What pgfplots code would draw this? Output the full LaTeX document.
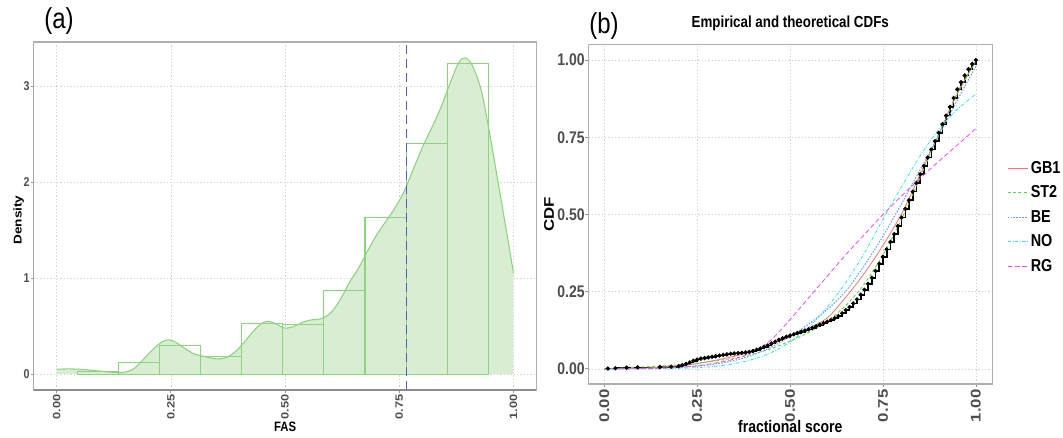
\documentclass[border=0pt]{standalone}
\usepackage{fontspec}
\setmainfont{Liberation Sans}
\usepackage{graphicx}
\usepackage{pgfplots}
\pgfplotsset{compat=1.18}
\newcommand{\vs}[1]{\scalebox{1}[1.2]{#1}}
\newcommand{\hs}[1]{\scalebox{1.2}[1]{#1}}
\definecolor{densfill}{RGB}{217,237,211}
\definecolor{densline}{RGB}{140,212,125}
\definecolor{vlinec}{RGB}{88,88,200}
\definecolor{ticktext}{RGB}{77,77,77}
\definecolor{tickc}{RGB}{150,150,150}
\definecolor{framec}{RGB}{175,175,175}
\definecolor{gridc}{RGB}{210,210,210}
\definecolor{colGB}{RGB}{248,118,109}
\definecolor{colST}{RGB}{90,215,70}
\definecolor{colBE}{RGB}{100,160,255}
\definecolor{colNO}{RGB}{60,225,225}
\definecolor{colRG}{RGB}{230,80,230}
\pgfplotstableread{
x y
0.00 0.052
0.03 0.055
0.06 0.048
0.10 0.030
0.13 0.018
0.15 0.022
0.17 0.060
0.19 0.155
0.21 0.255
0.23 0.335
0.245 0.358
0.26 0.335
0.28 0.270
0.30 0.215
0.32 0.188
0.35 0.160
0.37 0.172
0.39 0.230
0.41 0.330
0.43 0.445
0.45 0.535
0.465 0.550
0.48 0.525
0.50 0.480
0.52 0.500
0.54 0.545
0.56 0.568
0.58 0.580
0.60 0.640
0.62 0.770
0.64 0.950
0.66 1.100
0.68 1.280
0.70 1.450
0.72 1.590
0.74 1.730
0.76 1.900
0.78 2.130
0.80 2.360
0.82 2.560
0.84 2.770
0.86 3.020
0.88 3.250
0.895 3.300
0.91 3.220
0.93 2.950
0.95 2.450
0.97 1.900
0.98 1.620
0.99 1.340
1.00 1.050
}\density
\begin{document}
\begin{tikzpicture}[x=1pt,y=1pt]
\useasboundingbox (0,0) rectangle (797.25,327.75);
% ---------------- panel (a)
\begin{axis}[
 at={(25.35pt,35.25pt)}, anchor=south west, scale only axis,
 width=376.9pt, height=261pt,
 xmin=-0.05, xmax=1.05, ymin=-0.165, ymax=3.465,
 xtick={0,0.25,0.5,0.75,1},
 xticklabels={\hs{0.00},\hs{0.25},\hs{0.50},\hs{0.75},\hs{1.00}},
 ytick={0,1,2,3},
 yticklabels={\vs{0},\vs{1},\vs{2},\vs{3}},
 tick pos=left, tick align=outside, major tick length=2.2pt,
 every tick/.style={tickc, line width=0.6pt},
 xticklabel style={rotate=90, anchor=east, inner sep=0pt, font=\bfseries\fontsize{8}{9}\selectfont, text=ticktext},
 yticklabel style={anchor=east, inner sep=0pt, font=\bfseries\fontsize{8}{9}\selectfont, text=ticktext},
 xticklabel shift=1pt, yticklabel shift=0.7pt,
 grid=major, major grid style={gridc, dash pattern=on 1pt off 1.5pt, line width=0.4pt},
 axis line style={framec, line width=0.8pt},
 xlabel={\vs{FAS}}, ylabel={\hs{Density}},
 xlabel style={at={(axis description cs:0.5,-0.1055)}, anchor=center, font=\bfseries\fontsize{8.5}{10}\selectfont},
 ylabel style={at={(axis description cs:-0.0300,0.4885)}, anchor=center, font=\bfseries\fontsize{8.5}{10}\selectfont},
 unbounded coords=jump,
]
\addplot[draw=none, fill=densfill] table {\density} \closedcycle;
% histogram bars (outlines only)
\addplot[draw=densline, line width=0.8pt] coordinates {
(0.045,0) (0.045,0.027) (0.135,0.027) (0.135,0) (0.045,0) (0.045,nan)
(0.135,0) (0.135,0.125) (0.225,0.125) (0.225,0) (0.135,0) (0.135,nan)
(0.225,0) (0.225,0.295) (0.315,0.295) (0.315,0) (0.225,0) (0.225,nan)
(0.315,0) (0.315,0.180) (0.405,0.180) (0.405,0) (0.315,0) (0.315,nan)
(0.405,0) (0.405,0.525) (0.495,0.525) (0.495,0) (0.405,0) (0.405,nan)
(0.495,0) (0.495,0.520) (0.585,0.520) (0.585,0) (0.495,0) (0.495,nan)
(0.585,0) (0.585,0.870) (0.675,0.870) (0.675,0) (0.585,0) (0.585,nan)
(0.675,0) (0.675,1.637) (0.765,1.637) (0.765,0) (0.675,0) (0.675,nan)
(0.765,0) (0.765,2.405) (0.855,2.405) (0.855,0) (0.765,0) (0.765,nan)
(0.855,0) (0.855,3.243) (0.945,3.243) (0.945,0) (0.855,0)
};
\addplot[densline, line width=0.8pt, smooth, tension=0.5] table {\density};
\addplot[vlinec, line width=1.3pt, dash pattern=on 7pt off 3.5pt] coordinates {(0.766,-0.165) (0.766,3.465)};
\draw[framec!80!black, line width=1pt] (rel axis cs:0,1) -- (rel axis cs:0,0) -- (rel axis cs:1,0);
\end{axis}
% ---------------- panel (b)
\begin{axis}[
 at={(441.2pt,39.75pt)}, anchor=south west, scale only axis,
 width=303pt, height=254.8pt,
 xmin=-0.043, xmax=1.044, ymin=-0.049, ymax=1.051,
 xtick={0,0.25,0.5,0.75,1},
 xticklabels={\hs{0.00},\hs{0.25},\hs{0.50},\hs{0.75},\hs{1.00}},
 ytick={0,0.25,0.5,0.75,1},
 yticklabels={\vs{0.00},\vs{0.25},\vs{0.50},\vs{0.75},\vs{1.00}},
 tick pos=left, tick align=outside, major tick length=2.2pt,
 every tick/.style={tickc, line width=0.6pt},
 xticklabel style={rotate=90, anchor=east, inner sep=0pt, font=\bfseries\fontsize{10.5}{12}\selectfont, text=ticktext},
 yticklabel style={anchor=east, inner sep=0pt, font=\bfseries\fontsize{10.5}{12}\selectfont, text=ticktext},
 xticklabel shift=1.8pt, yticklabel shift=0.3pt,
 grid=major, major grid style={gridc, dash pattern=on 1pt off 1.5pt, line width=0.5pt},
 axis line style={framec, line width=0.9pt},
 title={\vs{Empirical and theoretical CDFs}},
 title style={at={(axis description cs:0.5,1.0377)}, anchor=center, font=\bfseries\fontsize{10}{12}\selectfont},
 xlabel={\vs{fractional score}}, ylabel={\hs{CDF}},
 xlabel style={at={(axis description cs:0.5,-0.1257)}, anchor=center, font=\bfseries\fontsize{10.5}{12}\selectfont},
 ylabel style={at={(axis description cs:-0.0973,0.5)}, anchor=center, font=\bfseries\fontsize{10.5}{12}\selectfont},
 legend style={at={(axis description cs:1.036,0.664)}, anchor=north west, draw=none, fill=none,
   inner sep=0pt, font=\bfseries\fontsize{10.8}{12}\selectfont, row sep=3.8pt,
   /tikz/every even column/.style={column sep=7pt}},
 legend cell align=left,
 legend image code/.code={\draw[#1] (0pt,0pt) -- (15pt,0pt);},
]
\addplot[forget plot, black, line width=1.2pt, const plot, mark=*, mark size=0.9pt, mark options={solid}] table {
x y
0.01 0.001
0.03 0.002
0.06 0.004
0.09 0.005
0.15 0.006
0.18 0.007
0.20 0.009
0.21 0.012
0.22 0.016
0.23 0.021
0.24 0.026
0.25 0.030
0.26 0.033
0.27 0.035
0.28 0.037
0.29 0.039
0.30 0.041
0.31 0.043
0.32 0.045
0.33 0.047
0.34 0.049
0.35 0.050
0.36 0.051
0.37 0.052
0.38 0.053
0.39 0.055
0.40 0.058
0.41 0.062
0.42 0.066
0.43 0.071
0.44 0.076
0.45 0.082
0.46 0.088
0.47 0.094
0.48 0.099
0.49 0.104
0.50 0.108
0.51 0.112
0.52 0.116
0.53 0.120
0.54 0.124
0.55 0.128
0.56 0.133
0.57 0.138
0.58 0.143
0.59 0.148
0.60 0.153
0.61 0.158
0.62 0.164
0.63 0.171
0.64 0.180
0.65 0.190
0.66 0.200
0.67 0.212
0.68 0.225
0.69 0.240
0.70 0.256
0.71 0.275
0.72 0.295
0.73 0.317
0.74 0.340
0.75 0.363
0.76 0.387
0.77 0.411
0.78 0.436
0.79 0.462
0.80 0.490
0.81 0.518
0.82 0.546
0.83 0.574
0.84 0.602
0.85 0.630
0.86 0.657
0.87 0.684
0.88 0.710
0.89 0.737
0.90 0.764
0.91 0.792
0.92 0.820
0.93 0.848
0.94 0.877
0.95 0.905
0.96 0.928
0.97 0.950
0.98 0.970
0.99 0.987
1.00 1.000
};
\addplot[color=colGB, line width=0.6pt, smooth] table {
x y
0.00 0.000
0.10 0.002
0.20 0.010
0.25 0.017
0.30 0.028
0.35 0.041
0.40 0.058
0.45 0.080
0.50 0.105
0.55 0.132
0.60 0.165
0.65 0.232
0.70 0.310
0.75 0.400
0.80 0.502
0.85 0.630
0.90 0.760
0.95 0.890
1.00 0.998
};
\addlegendentry{\vs{GB1}}
\addplot[color=colST, line width=0.7pt, smooth, dash pattern=on 2.2pt off 1.8pt] table {
x y
0.00 0.000
0.05 0.003
0.10 0.006
0.15 0.009
0.20 0.013
0.25 0.019
0.30 0.026
0.35 0.035
0.40 0.048
0.45 0.066
0.50 0.090
0.55 0.118
0.60 0.155
0.65 0.205
0.70 0.275
0.75 0.370
0.80 0.485
0.85 0.620
0.90 0.760
0.95 0.895
1.00 0.995
};
\addlegendentry{\vs{ST2}}
\addplot[color=colBE, line width=0.8pt, smooth, dash pattern=on 1.1pt off 1.1pt] table {
x y
0.00 0.000
0.10 0.001
0.20 0.005
0.25 0.009
0.30 0.016
0.35 0.027
0.40 0.045
0.45 0.071
0.50 0.105
0.55 0.145
0.60 0.192
0.65 0.252
0.70 0.335
0.75 0.430
0.80 0.535
0.85 0.645
0.90 0.755
0.95 0.870
1.00 0.980
};
\addlegendentry{\vs{BE}}
\addplot[color=colNO, line width=0.6pt, smooth, dash pattern=on 2.5pt off 1.2pt on 0.6pt off 1.2pt] table {
x y
0.00 0.0000
0.10 0.0003
0.20 0.0018
0.25 0.0040
0.30 0.0085
0.35 0.0170
0.40 0.0310
0.45 0.0530
0.50 0.0870
0.55 0.1350
0.60 0.2000
0.65 0.2800
0.70 0.3750
0.75 0.4850
0.80 0.5900
0.85 0.6900
0.90 0.7750
0.95 0.8400
1.00 0.8900
};
\addlegendentry{\vs{NO}}
\addplot[color=colRG, line width=0.6pt, smooth, dash pattern=on 3.5pt off 2pt] table {
x y
0.00 0.000
0.10 0.001
0.15 0.002
0.20 0.005
0.25 0.010
0.30 0.019
0.35 0.032
0.40 0.055
0.45 0.095
0.50 0.160
0.55 0.230
0.60 0.300
0.65 0.370
0.70 0.435
0.75 0.500
0.80 0.560
0.85 0.617
0.90 0.672
0.95 0.725
1.00 0.778
};
\addlegendentry{\vs{RG}}
\end{axis}
\node[font=\fontsize{18}{20}\selectfont] at (44.3,312.2) {\vs{(a)}};
\node[font=\fontsize{18}{20}\selectfont] at (453,308.4) {\vs{(b)}};
\end{tikzpicture}
\end{document}
